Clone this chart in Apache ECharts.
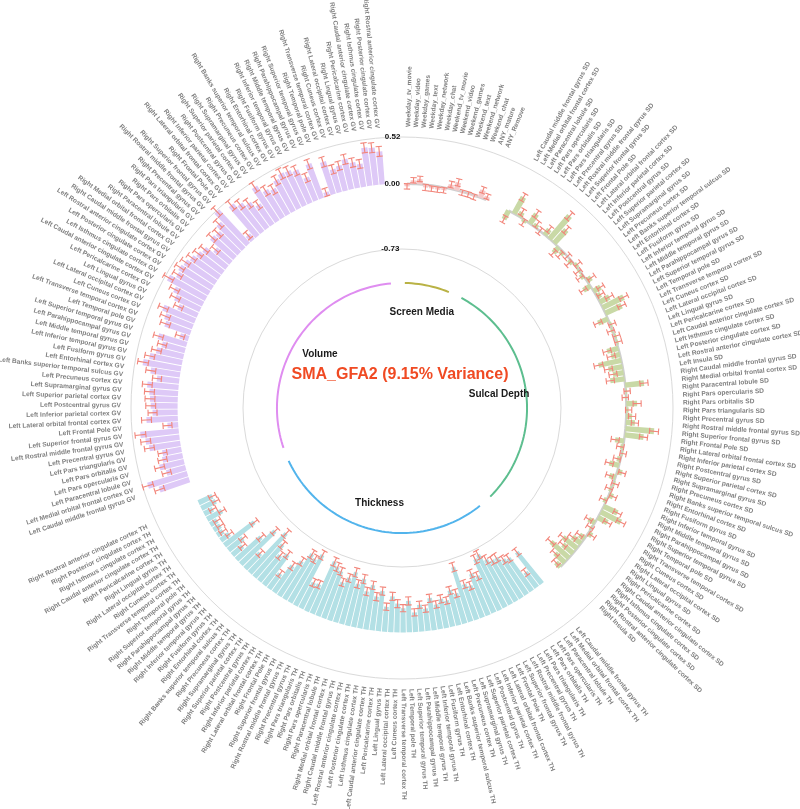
<!DOCTYPE html>
<html><head><meta charset="utf-8">
<script src="https://cdn.jsdelivr.net/npm/echarts@6/dist/echarts.min.js"></script>
<style>html,body{margin:0;padding:0;background:#fff}#chart{width:800px;height:809px}</style>
</head><body><div id="chart"></div>
<script>
// ---------------- data ----------------
const screenMediaLabels = ['Weekday_tv_movie','Weekday_video','Weekday_games','Weekday_text','Weekday_network','Weekday_chat','Weekend_tv_movie','Weekend_video','Weekend_games','Weekend_text','Weekend_network','Weekend_chat','ANY_mature','ANY_Remove'];
const regionNames = ['Caudal middle frontal gyrus','Medial orbital frontal cortex','Paracentral lobule','Pars opercularis','Pars orbitalis','Pars triangularis','Precentral gyrus','Rostral middle frontal gyrus','Superior frontal gyrus','Frontal Pole','Lateral orbital frontal cortex','Inferior parietal cortex','Postcentral gyrus','Superior parietal cortex','Supramarginal gyrus','Precuneus cortex','Banks superior temporal sulcus','Entorhinal cortex','Fusiform gyrus','Inferior temporal gyrus','Middle temporal gyrus','Parahippocampal gyrus','Superior temporal gyrus','Temporal pole','Transverse temporal cortex','Cuneus cortex','Lateral occipital cortex','Lingual gyrus','Pericalcarine cortex','Caudal anterior cingulate cortex','Isthmus cingulate cortex','Posterior cingulate cortex','Rostral anterior cingulate cortex','Insula'];
const hemispheres = ['Left','Right'];
const sulcalLabels = hemispheres.flatMap(h => regionNames.map(r => h + ' ' + r + ' SD'));
const thicknessLabels = hemispheres.flatMap(h => regionNames.filter(r => r !== 'Insula').map(r => h + ' ' + r + ' TH'));
const volumeLabels = hemispheres.flatMap(h => regionNames.filter(r => r !== 'Insula').map(r => h + ' ' + r + ' GV'));
const groupNames = ['Screen Media','Sulcal Depth','Thickness','Volume'];
const radialTicks = [-0.73, 0.00, 0.52];

const smValues = [-0.03,0.04,0.06,-0.03,-0.035,-0.035,-0.03,0.05,0.09,-0.01,-0.01,-0.015,0.09,0.04];
const smErrors = [0.03,0.03,0.03,0.035,0.03,0.03,0.03,0.035,0.04,0.03,0.03,0.03,0.035,0.03];

const sdValues = [-0.11,0.21,0.06,-0.03,0.13,0.04,0.00,0.08,0.34,0.20,
 -0.085,-0.045,0.00,-0.04,0.03,-0.02,-0.04,0.06,-0.09,0.09,
 0.05,0.12,0.26,0.20,-0.12,0.02,-0.02,0.02,0.02,-0.13,
 -0.10,-0.26,-0.16,-0.12,-0.16,0.21,0.015,-0.01,0.12,0.025,
 0.065,0.10,0.32,0.21,-0.10,-0.03,0.015,-0.04,-0.11,0.056,
 -0.07,0.02,-0.025,0.05,-0.035,0.17,0.25,0.12,-0.08,-0.02,
 0.05,-0.07,-0.12,-0.20,-0.15,-0.27,-0.15,-0.07];
const sdErrors = [0.04,0.045,0.04,0.04,0.045,0.04,0.04,0.04,0.05,0.045,
 0.04,0.04,0.04,0.04,0.04,0.04,0.04,0.045,0.04,0.04,
 0.04,0.045,0.05,0.045,0.045,0.04,0.04,0.04,0.04,0.045,
 0.045,0.05,0.045,0.045,0.045,0.045,0.035,0.035,0.045,0.035,
 0.04,0.04,0.05,0.045,0.045,0.04,0.035,0.04,0.045,0.04,
 0.04,0.04,0.04,0.04,0.04,0.045,0.05,0.045,0.04,0.04,
 0.04,0.04,0.045,0.045,0.045,0.05,0.045,0.04];

const thValues = [-0.45,-0.21,-0.45,-0.47,-0.53,-0.53,-0.57,-0.66,-0.63,-0.45,
 -0.50,-0.38,-0.42,-0.64,-0.35,-0.40,-0.30,-0.33,-0.28,-0.36,
 -0.25,-0.30,-0.22,-0.35,-0.27,-0.32,-0.40,-0.28,-0.45,-0.38,
 -0.50,-0.42,-0.55,-0.48,-0.60,-0.52,
 -0.45,-0.56,-0.59,-0.63,-0.33,-0.32,-0.64,-0.56,-0.59,-0.46,
 -0.36,-0.21,-0.43,-0.37,-0.48,-0.60,-0.24,-0.53,-0.37,-0.15,
 -0.21,-0.42,-0.12,-0.08,-0.09,-0.09,-0.19,-0.11,-0.18,-0.17];
const thErrors = [0.045,0.04,0.045,0.045,0.05,0.045,0.05,0.05,0.05,0.045,
 0.045,0.045,0.045,0.05,0.045,0.045,0.04,0.045,0.04,0.045,
 0.04,0.04,0.04,0.045,0.04,0.045,0.045,0.04,0.045,0.045,
 0.045,0.045,0.05,0.045,0.05,0.045,
 0.045,0.045,0.05,0.05,0.045,0.045,0.05,0.045,0.05,0.045,
 0.045,0.04,0.045,0.045,0.045,0.05,0.04,0.045,0.045,0.04,
 0.04,0.045,0.04,0.04,0.04,0.04,0.04,0.04,0.04,0.04];

const gvValues = [0.35,0.46,0.22,0.28,0.23,0.215,0.35,0.38,0.43,0.12,
 0.35,0.28,0.30,0.31,0.32,0.35,0.25,0.33,0.43,0.37,
 0.31,0.265,0.33,0.10,
 0.30,0.33,0.385,0.235,0.31,0.36,0.48,0.41,0.43,0.41,
 0.38,0.35,0.325,0.23,0.345,0.33,0.395,0.51,0.08,0.455,
 0.40,0.35,0.275,
 0.46,0.36,0.33,0.40,0.44,0.43,0.40,0.28,0.41,0.05,
 0.38,0.27,0.29,0.345,0.29,0.26,0.43,0.42,0.37];
const gvErrors = [0.055,0.06,0.05,0.055,0.05,0.05,0.055,0.055,0.06,0.05,
 0.055,0.05,0.055,0.055,0.055,0.055,0.05,0.055,0.06,0.055,
 0.055,0.05,0.055,0.05,
 0.055,0.055,0.055,0.05,0.055,0.055,0.06,0.055,0.055,0.055,
 0.055,0.055,0.055,0.05,0.055,0.055,0.055,0.06,0.045,0.06,
 0.055,0.055,0.05,
 0.06,0.055,0.055,0.055,0.06,0.055,0.055,0.05,0.055,0.045,
 0.055,0.05,0.05,0.055,0.05,0.05,0.055,0.055,0.055];

// ---------------- styles ----------------
const groupStyle = {
  'Screen Media': {bar: '#F6CACA', arc: '#B9B245', baseline: true},
  'Sulcal Depth': {bar: '#C9D9A6', arc: '#5DBE8F', baseline: true},
  'Thickness':    {bar: '#B3E0E5', arc: '#52B4EC', baseline: false},
  'Volume':       {bar: '#DEC9F7', arc: '#DF8DF0', baseline: false}
};
const GAP_SLOTS = 3;
const CX = 402, CY = 408;

// ---------------- build slots ----------------
const groupsData = [
  {name: groupNames[0], labels: screenMediaLabels, values: smValues, errors: smErrors},
  {name: groupNames[1], labels: sulcalLabels, values: sdValues, errors: sdErrors},
  {name: groupNames[2], labels: thicknessLabels, values: thValues, errors: thErrors},
  {name: groupNames[3], labels: volumeLabels, values: gvValues, errors: gvErrors}
];
const slots = [];
const groupRanges = [];
groupsData.forEach(g => {
  const start = slots.length;
  g.labels.forEach((lab, k) => slots.push({label: lab, value: g.values[k], err: g.errors[k], group: g.name}));
  groupRanges.push({name: g.name, start: start, end: slots.length - 1});
  for (let k = 0; k < GAP_SLOTS; k++) slots.push(null);
});
const N = slots.length;
const categories = slots.map((s, i) => 'c' + i);

const barData = slots.map(s => s ? {value: s.value, itemStyle: {color: groupStyle[s.group].bar}} : '-');
const errData = [];
slots.forEach((s, i) => { if (s) errData.push([s.value - s.err, i, s.value + s.err]); });
const labelData = [];
const labelTexts = [];
slots.forEach((s, i) => { if (s) { labelData.push([1, i + 0.5]); labelTexts.push(s.label); } });

const series = [];
// baselines
groupRanges.forEach(gr => {
  if (!groupStyle[gr.name].baseline) return;
  const d = [];
  for (let i = gr.start; i <= gr.end; i++) d.push([0, i]);
  series.push({type: 'line', coordinateSystem: 'polar', polarIndex: 0, data: d, symbol: 'none',
    lineStyle: {color: '#cfcfcf', width: 2.5}, z: 1, silent: true});
});
series.push({
  type: 'bar', coordinateSystem: 'polar', polarIndex: 0, data: barData,
  barCategoryGap: '14%', itemStyle: {borderWidth: 0}, z: 2, silent: true
});
series.push({
  type: 'custom', coordinateSystem: 'polar', polarIndex: 0, data: errData, z: 3, silent: true,
  encode: {radius: 0, angle: 1},
  renderItem: (params, api) => {
    const idx = api.value(1);
    const p1 = api.coord([api.value(0), idx]);
    const p2 = api.coord([api.value(2), idx]);
    const cs = params.coordSys;
    let ux = p2[0] - p1[0], uy = p2[1] - p1[1];
    let len = Math.hypot(ux, uy);
    if (len < 0.01) { ux = p1[0] - cs.cx; uy = p1[1] - cs.cy; len = Math.hypot(ux, uy); }
    ux /= len; uy /= len;
    const cap = 3.2;
    const nx = -uy * cap, ny = ux * cap;
    const st = {stroke: '#F2857A', lineWidth: 1.1};
    return {type: 'group', children: [
      {type: 'line', shape: {x1: p1[0], y1: p1[1], x2: p2[0], y2: p2[1]}, style: st},
      {type: 'line', shape: {x1: p1[0] - nx, y1: p1[1] - ny, x2: p1[0] + nx, y2: p1[1] + ny}, style: st},
      {type: 'line', shape: {x1: p2[0] - nx, y1: p2[1] - ny, x2: p2[0] + nx, y2: p2[1] + ny}, style: st}
    ]};
  }
});
// category labels
series.push({
  type: 'custom', coordinateSystem: 'polar', polarIndex: 1, data: labelData, z: 4, silent: true,
  encode: {radius: 0, angle: 1},
  renderItem: (params, api) => {
    const p = api.coord([api.value(0), api.value(1)]);
    const cs = params.coordSys;
    let th = Math.atan2(p[0] - cs.cx, cs.cy - p[1]) * 180 / Math.PI;
    if (th < 0) th += 360;
    let rot, align;
    if (th < 180) { rot = 90 - th; align = 'left'; } else { rot = 270 - th; align = 'right'; }
    return {type: 'text', x: p[0], y: p[1], rotation: rot * Math.PI / 180,
      style: {text: labelTexts[params.dataIndex], align: align, verticalAlign: 'middle',
        fill: '#808080', font: 'bold 6.6px "Liberation Sans", Arial, sans-serif'}};
  }
});
// inner group arcs
groupRanges.forEach(gr => {
  const d = [];
  for (let i = gr.start; i <= gr.end; i++) d.push([0.445, i + 0.5]);
  series.push({type: 'line', coordinateSystem: 'polar', polarIndex: 1, data: d, symbol: 'none',
    lineStyle: {color: groupStyle[gr.name].arc, width: 2}, z: 2, silent: true});
});
// group names
series.push({
  type: 'custom', coordinateSystem: 'polar', polarIndex: 1, silent: true, z: 5,
  encode: {radius: 0, angle: 1},
  data: groupRanges.map(gr => [0.349, (gr.start + gr.end) / 2 + 0.5]),
  renderItem: (params, api) => {
    const p = api.coord([api.value(0), api.value(1)]);
    return {type: 'text', x: p[0], y: p[1],
      style: {text: groupRanges[params.dataIndex].name, align: 'center', verticalAlign: 'middle',
        fill: '#1a1a1a', font: 'bold 10px "Liberation Sans", Arial, sans-serif'}};
  }
});

const chart = echarts.init(document.getElementById('chart'), null, {renderer: 'canvas'});
chart.setOption({
  animation: false,
  backgroundColor: '#ffffff',
  title: {text: 'SMA_GFA2 (9.15% Variance)', left: 'center', top: 362,
    textStyle: {fontSize: 16, fontWeight: 'bold', color: '#F04A23', fontFamily: '"Liberation Sans", Arial, sans-serif'}},
  polar: [
    {center: [CX, CY], radius: [159, 271]},
    {center: [CX, CY], radius: [0, 281]}
  ],
  angleAxis: [
    {polarIndex: 0, type: 'category', data: categories, startAngle: 89.5, clockwise: true, boundaryGap: true,
      axisLine: {show: true, lineStyle: {color: '#dadada', width: 1}}, axisTick: {show: false},
      axisLabel: {show: false}, splitLine: {show: false}},
    {polarIndex: 1, type: 'value', min: 0, max: N, startAngle: 89.5, clockwise: true,
      axisLine: {show: false}, axisTick: {show: false}, axisLabel: {show: false}, splitLine: {show: false}}
  ],
  radiusAxis: [
    {polarIndex: 0, type: 'value', min: radialTicks[0], max: radialTicks[2], interval: radialTicks[1] - radialTicks[0],
      axisLine: {show: false}, axisTick: {show: false}, splitLine: {show: false},
      axisLabel: {show: true, fontSize: 8, fontWeight: 'bold', color: '#111', margin: 4,
        fontFamily: '"Liberation Sans", Arial, sans-serif', formatter: v => v.toFixed(2)}, z: 10},
    {polarIndex: 1, type: 'value', min: 0, max: 1,
      axisLine: {show: false}, axisTick: {show: false}, axisLabel: {show: false}, splitLine: {show: false}}
  ],
  series: series
});
</script>
</body></html>
